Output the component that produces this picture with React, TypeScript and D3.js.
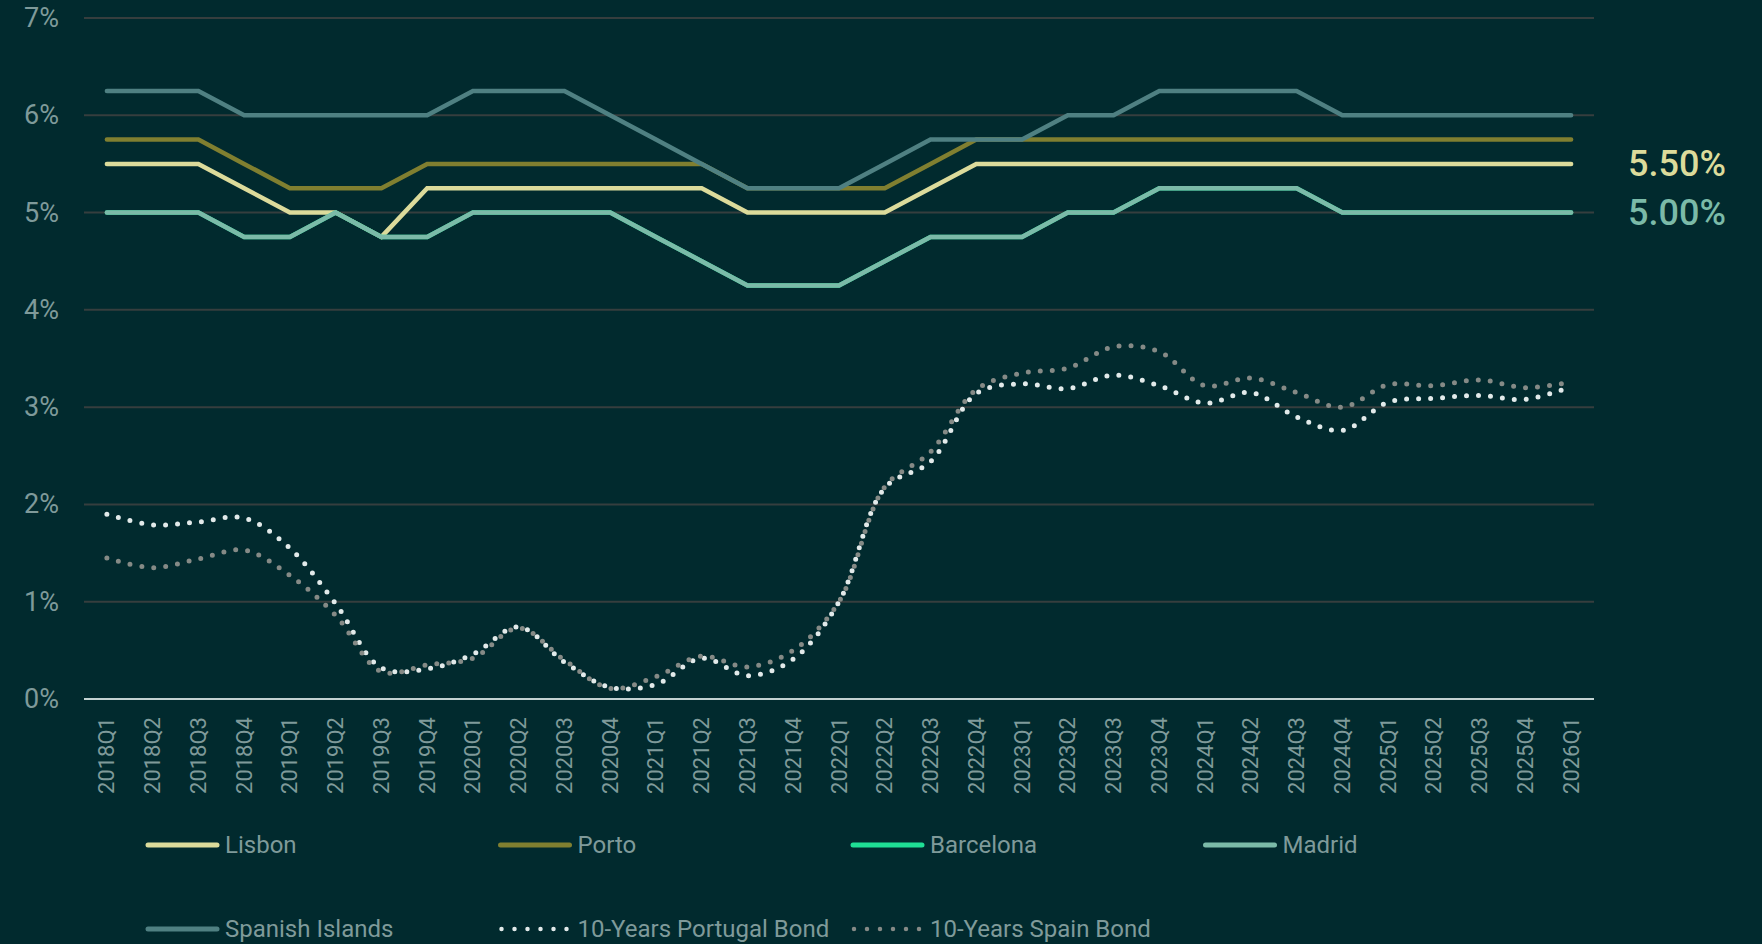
import React, { useEffect, useRef } from 'react'
import {
    select,
    scaleLinear,
    scalePoint,
    line,
    curveCatmullRom,
    curveLinear
} from 'd3'

// quarters on the x axis
const quarters = [
    '2018Q1', '2018Q2', '2018Q3', '2018Q4',
    '2019Q1', '2019Q2', '2019Q3', '2019Q4',
    '2020Q1', '2020Q2', '2020Q3', '2020Q4',
    '2021Q1', '2021Q2', '2021Q3', '2021Q4',
    '2022Q1', '2022Q2', '2022Q3', '2022Q4',
    '2023Q1', '2023Q2', '2023Q3', '2023Q4',
    '2024Q1', '2024Q2', '2024Q3', '2024Q4',
    '2025Q1', '2025Q2', '2025Q3', '2025Q4',
    '2026Q1'
]

// yields, %
const lisbon = [5.5, 5.5, 5.5, 5.25, 5.0, 5.0, 4.75, 5.25, 5.25, 5.25, 5.25, 5.25, 5.25, 5.25, 5.0, 5.0, 5.0, 5.0, 5.25, 5.5,
    5.5, 5.5, 5.5, 5.5, 5.5, 5.5, 5.5, 5.5, 5.5, 5.5, 5.5, 5.5, 5.5]
const porto = [5.75, 5.75, 5.75, 5.5, 5.25, 5.25, 5.25, 5.5, 5.5, 5.5, 5.5, 5.5, 5.5, 5.5, 5.25, 5.25, 5.25, 5.25, 5.5, 5.75,
    5.75, 5.75, 5.75, 5.75, 5.75, 5.75, 5.75, 5.75, 5.75, 5.75, 5.75, 5.75, 5.75]
const barcelona = [5.0, 5.0, 5.0, 4.75, 4.75, 5.0, 4.75, 4.75, 5.0, 5.0, 5.0, 5.0, 4.75, 4.5, 4.25, 4.25, 4.25, 4.5, 4.75, 4.75,
    4.75, 5.0, 5.0, 5.25, 5.25, 5.25, 5.25, 5.0, 5.0, 5.0, 5.0, 5.0, 5.0]
const madrid = [5.0, 5.0, 5.0, 4.75, 4.75, 5.0, 4.75, 4.75, 5.0, 5.0, 5.0, 5.0, 4.75, 4.5, 4.25, 4.25, 4.25, 4.5, 4.75, 4.75,
    4.75, 5.0, 5.0, 5.25, 5.25, 5.25, 5.25, 5.0, 5.0, 5.0, 5.0, 5.0, 5.0]
const spanishIslands = [6.25, 6.25, 6.25, 6.0, 6.0, 6.0, 6.0, 6.0, 6.25, 6.25, 6.25, 6.0, 5.75, 5.5, 5.25, 5.25, 5.25, 5.5, 5.75, 5.75,
    5.75, 6.0, 6.0, 6.25, 6.25, 6.25, 6.25, 6.0, 6.0, 6.0, 6.0, 6.0, 6.0]
const portugalBond = [1.90, 1.79, 1.82, 1.86, 1.55, 0.98, 0.32, 0.31, 0.46, 0.74, 0.38, 0.12, 0.15, 0.42, 0.24, 0.41, 1.00, 2.17, 2.44, 3.14,
    3.24, 3.19, 3.33, 3.22, 3.04, 3.15, 2.90, 2.76, 3.05, 3.09, 3.12, 3.08, 3.21]
const spainBond = [1.45, 1.35, 1.44, 1.53, 1.27, 0.86, 0.28, 0.35, 0.42, 0.73, 0.40, 0.11, 0.23, 0.44, 0.33, 0.50, 1.00, 2.18, 2.54, 3.18,
    3.35, 3.40, 3.62, 3.57, 3.22, 3.30, 3.15, 3.00, 3.23, 3.22, 3.28, 3.20, 3.26]

const yTicks = [0, 1, 2, 3, 4, 5, 6, 7]

const series = [
    { name: 'Lisbon', values: lisbon, color: '#dcdb9b', dotted: false },
    { name: 'Porto', values: porto, color: '#807f30', dotted: false },
    { name: 'Barcelona', values: barcelona, color: '#1fdf95', dotted: false },
    { name: 'Madrid', values: madrid, color: '#7bbaa8', dotted: false },
    { name: 'Spanish Islands', values: spanishIslands, color: '#4f8082', dotted: false },
    { name: '10-Years Portugal Bond', values: portugalBond, color: '#e2eaea', dotted: true },
    { name: '10-Years Spain Bond', values: spainBond, color: '#858a86', dotted: true },
]

// end-of-line value labels
const endLabels = [
    { series: 'Lisbon', text: '5.50%' },
    { series: 'Madrid', text: '5.00%' },
]

const W = 1762
const H = 944
const BG = '#012a2e'
const FONT = "Roboto, 'Noto Sans', sans-serif"
const TEXT = '#7f9a9a'

export default function App() {
    const ref = useRef<SVGSVGElement | null>(null)

    useEffect(() => {
        document.body.style.margin = '0'
        document.body.style.background = BG

        const svg = select(ref.current)
        svg.selectAll('*').remove()

        const margins = { l: 84, r: 168, t: 18, b: 245 }

        const x = scalePoint<string>()
            .domain(quarters)
            .range([margins.l, W - margins.r])
            .padding(0.5)

        const y = scaleLinear()
            .domain([0, 7])
            .range([H - margins.b, margins.t])

        // grid
        svg.append('g').selectAll('line').data(yTicks.filter(d => d > 0)).join('line')
            .attr('x1', margins.l).attr('x2', W - margins.r)
            .attr('y1', d => y(d)).attr('y2', d => y(d))
            .attr('stroke', '#363e3e').attr('stroke-width', 2)

        svg.append('line')
            .attr('x1', margins.l).attr('x2', W - margins.r)
            .attr('y1', y(0)).attr('y2', y(0))
            .attr('stroke', '#c3d2d2').attr('stroke-width', 2)

        // y labels
        svg.append('g').selectAll('text').data(yTicks).join('text')
            .attr('x', 59).attr('y', d => y(d))
            .attr('text-anchor', 'end')
            .attr('dominant-baseline', 'central')
            .attr('font-family', FONT).attr('font-size', 27)
            .attr('fill', TEXT)
            .text(d => d + '%')

        // x labels
        svg.append('g').selectAll('text').data(quarters).join('text')
            .attr('transform', d => `translate(${x(d)}, ${y(0) + 18}) rotate(-90)`)
            .attr('text-anchor', 'end')
            .attr('dominant-baseline', 'central')
            .attr('font-family', FONT).attr('font-size', 22)
            .attr('fill', TEXT)
            .text(d => d)

        // lines
        const solidLine = line<number>()
            .x((d, i) => x(quarters[i]) as number)
            .y(d => y(d))
            .curve(curveLinear)
        const bondLine = line<number>()
            .x((d, i) => x(quarters[i]) as number)
            .y(d => y(d))
            .curve(curveCatmullRom.alpha(0.5))

        svg.append('g').selectAll('path').data(series).join('path')
            .attr('d', d => (d.dotted ? bondLine : solidLine)(d.values))
            .attr('fill', 'none')
            .attr('stroke', d => d.color)
            .attr('stroke-width', d => d.dotted ? 5 : 4.5)
            .attr('stroke-linecap', 'round')
            .attr('stroke-linejoin', 'miter')
            .attr('stroke-dasharray', d => d.dotted ? '0 12' : null)

        // end labels
        svg.append('g').selectAll('text').data(endLabels).join('text')
            .attr('x', 1628)
            .attr('y', d => {
                const s = series.find(e => e.name === d.series)!
                return y(s.values[s.values.length - 1])
            })
            .attr('dominant-baseline', 'central')
            .attr('font-family', FONT).attr('font-size', 36).attr('font-weight', 500)
            .attr('fill', d => series.find(e => e.name === d.series)!.color)
            .text(d => d.text)

        // legend
        const legend = svg.append('g').selectAll('g').data(series).join('g')
            .attr('transform', (d, i) => `translate(${146 + (i % 4) * 352.5}, ${845 + Math.floor(i / 4) * 84})`)

        legend.append('line')
            .attr('x1', d => d.dotted ? 3 : 2).attr('x2', d => d.dotted ? 70 : 71)
            .attr('y1', 0).attr('y2', 0)
            .attr('stroke', d => d.color)
            .attr('stroke-width', d => d.dotted ? 4.5 : 5)
            .attr('stroke-linecap', 'round')
            .attr('stroke-dasharray', d => d.dotted ? '0 13' : null)

        legend.append('text')
            .attr('x', 79).attr('y', 0)
            .attr('dominant-baseline', 'central')
            .attr('font-family', FONT).attr('font-size', 24)
            .attr('fill', TEXT)
            .text(d => d.name)
    }, [])

    return <svg ref={ref} width={W} height={H} style={{ display: 'block', background: BG }} />
}
